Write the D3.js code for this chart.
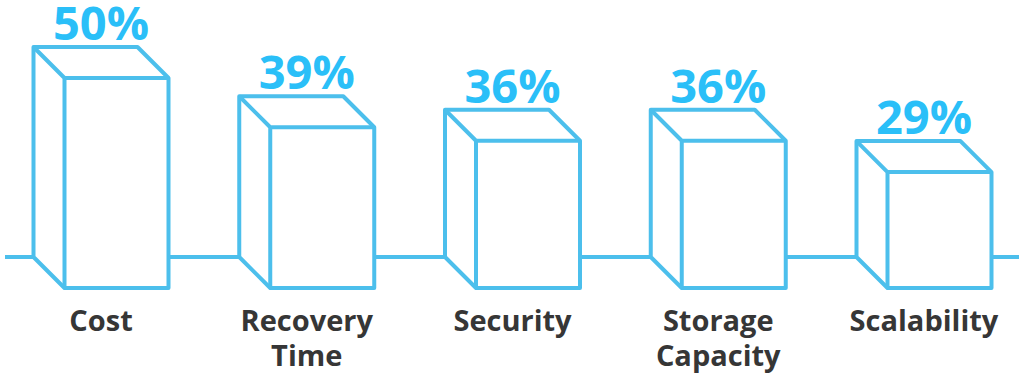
<!DOCTYPE html>
<html lang="en">
<head>
	<meta charset="utf-8">
	<title>Box chart</title>
	<script src="https://d3js.org/d3.v7.min.js"></script>
	<style>
		body { margin: 0; background: #fff; }
	</style>
</head>
<body>
	<script>
	// chart data
	var categories = ["Cost", "Recovery Time", "Security", "Storage Capacity", "Scalability"];
	var labelLines = [["Cost"], ["Recovery", "Time"], ["Security"], ["Storage", "Capacity"], ["Scalability"]];
	var values = [50, 39, 36, 36, 29];

	var w = 1019;
	var h = 377;
	var depth = 31;      // offset of the back face
	var faceW = 104;     // width of the front face
	var bottom = 288;    // bottom of the front face
	var stroke = "#4cbfec";

	var svg = d3.select("body")
		.append("svg")
		.attr("width", w)
		.attr("height", h);

	// box centre (whole box incl. depth)
	var x = d3.scalePoint()
		.domain(categories)
		.range([101, 924]);

	// front face top
	var y = d3.scaleLinear()
		.domain([0, 50])
		.range([302, 78]);

	// floor line behind the boxes
	svg.append("line")
		.attr("x1", 5)
		.attr("x2", w)
		.attr("y1", bottom - depth)
		.attr("y2", bottom - depth)
		.attr("stroke", stroke)
		.attr("stroke-width", 4);

	var boxes = svg.selectAll("g.box")
		.data(values)
		.enter()
		.append("g")
		.attr("class", "box");

	function corners(d, i) {
		var bl = x(categories[i]) - (faceW + depth) / 2; // back left
		var fl = bl + depth, fr = fl + faceW;
		var ft = y(d), bt = ft - depth;
		return {bl: bl, br: bl + faceW, fl: fl, fr: fr, ft: ft, bt: bt};
	}

	// outline + white fill
	boxes.append("path")
		.attr("d", function(d, i) {
			var c = corners(d, i);
			return "M" + c.bl + "," + c.bt + "L" + c.br + "," + c.bt +
				"L" + c.fr + "," + c.ft + "L" + c.fr + "," + bottom +
				"L" + c.fl + "," + bottom + "L" + c.bl + "," + (bottom - depth) + "Z";
		})
		.attr("fill", "#fff")
		.attr("stroke", stroke)
		.attr("stroke-width", 4)
		.attr("stroke-linejoin", "round");

	// inner edges of the front face
	boxes.append("path")
		.attr("d", function(d, i) {
			var c = corners(d, i);
			return "M" + c.bl + "," + c.bt + "L" + c.fl + "," + c.ft + "L" + c.fr + "," + c.ft +
				"M" + c.fl + "," + c.ft + "L" + c.fl + "," + bottom;
		})
		.attr("fill", "none")
		.attr("stroke", stroke)
		.attr("stroke-width", 4)
		.attr("stroke-linejoin", "round");

	// percent labels
	boxes.append("text")
		.attr("x", function(d, i) { return x(categories[i]); })
		.attr("y", function(d) { return y(d) - depth - 7; })
		.attr("text-anchor", "middle")
		.attr("font-family", "'Open Sans', sans-serif")
		.attr("font-weight", 700)
		.attr("font-size", 47)
		.attr("fill", "#2abff8")
		.text(function(d) { return d + "%"; });

	// category labels
	var cats = svg.selectAll("text.cat")
		.data(labelLines)
		.enter()
		.append("text")
		.attr("class", "cat")
		.attr("text-anchor", "middle")
		.attr("font-family", "'Open Sans', sans-serif")
		.attr("font-weight", 700)
		.attr("font-size", 29)
		.attr("fill", "#363636");

	cats.selectAll("tspan")
		.data(function(d, i) { return d.map(function(t) { return {t: t, i: i}; }); })
		.enter()
		.append("tspan")
		.attr("x", function(d) { return x(categories[d.i]); })
		.attr("y", function(d, j) { return 331 + j * 35; })
		.text(function(d) { return d.t; });
	</script>
</body>
</html>
